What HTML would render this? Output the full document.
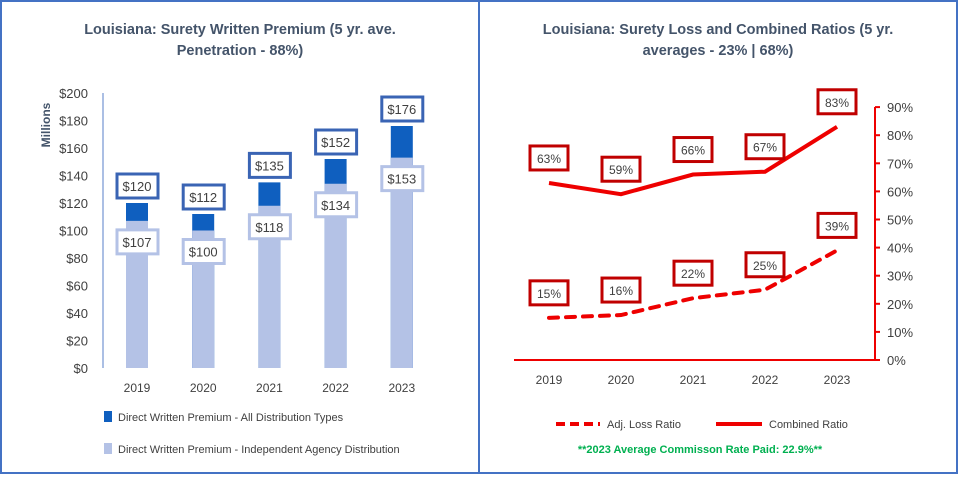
<!DOCTYPE html>
<html><head><meta charset="utf-8"><style>
body{margin:0;width:958px;height:474px;background:#fff;font-family:"Liberation Sans",sans-serif;overflow:hidden}
svg text{font-family:"Liberation Sans",sans-serif}
</style></head><body>
<svg width="958" height="474">
<rect x="1" y="1" width="956" height="472" fill="#fff" stroke="#4472c4" stroke-width="2"/>
<line x1="479" y1="0" x2="479" y2="474" stroke="#4472c4" stroke-width="2"/>
<g id="left">
<text x="240" y="34" text-anchor="middle" font-size="14.5" font-weight="bold" fill="#44546a">Louisiana: Surety Written Premium (5 yr. ave.</text>
<text x="240" y="55" text-anchor="middle" font-size="14.5" font-weight="bold" fill="#44546a">Penetration - 88%)</text>
<text transform="translate(50,125) rotate(-90)" text-anchor="middle" font-size="12" font-weight="bold" fill="#44546a">Millions</text>
<line x1="103" y1="93" x2="103" y2="368" stroke="#8faadc" stroke-width="1.5"/>
</g>
<g id="right">
<text x="718" y="34" text-anchor="middle" font-size="14.5" font-weight="bold" fill="#44546a">Louisiana: Surety Loss and Combined Ratios (5 yr.</text>
<text x="718" y="55" text-anchor="middle" font-size="14.5" font-weight="bold" fill="#44546a">averages - 23% | 68%)</text>
<line x1="514" y1="360" x2="875" y2="360" stroke="#e00" stroke-width="2"/>
<line x1="875" y1="107" x2="875" y2="360" stroke="#e00" stroke-width="2"/>
<line x1="556" y1="424" x2="600" y2="424" stroke="#e00" stroke-width="4" stroke-dasharray="9,5"/>
<text x="607" y="428" font-size="11" fill="#404040">Adj. Loss Ratio</text>
<line x1="716" y1="424" x2="762" y2="424" stroke="#e00" stroke-width="4"/>
<text x="769" y="428" font-size="11" fill="#404040">Combined Ratio</text>
<text x="700" y="453" text-anchor="middle" font-size="11" font-weight="bold" fill="#00b050">**2023 Average Commisson Rate Paid: 22.9%**</text>
</g>
<rect x="104" y="411" width="8" height="11" fill="#0f5fbf"/>
<text x="118" y="421" font-size="11" fill="#404040">Direct Written Premium - All Distribution Types</text>
<rect x="104" y="443" width="8" height="11" fill="#b4c2e6"/>
<text x="118" y="453" font-size="11" fill="#404040">Direct Written Premium - Independent Agency Distribution</text>
</svg>
<script>
const years=["2019","2020","2021","2022","2023"];
const allPremium=[120,112,135,152,176];
const agencyPremium=[107,100,118,134,153];
const premiumTicks=[0,20,40,60,80,100,120,140,160,180,200];
const combinedRatio=[63,59,66,67,83];
const lossRatio=[15,16,22,25,39];
const ratioTicks=[0,10,20,30,40,50,60,70,80,90];
const NS="http://www.w3.org/2000/svg";
function mk(parent,tag,attrs,text){const e=document.createElementNS(NS,tag);for(const k in attrs)e.setAttribute(k,attrs[k]);if(text!==undefined)e.textContent=text;parent.appendChild(e);return e;}
const L=document.getElementById('left'),R=document.getElementById('right');
const yL=v=>368-v*1.375, xL=i=>137+i*66.2;
premiumTicks.forEach(t=>{const e=mk(L,'text',{x:88,y:yL(t)+5,'text-anchor':'end','font-size':13,fill:'#404040'},'$'+t);

});
years.forEach((y,i)=>{
const x=xL(i);
const b1=mk(L,'rect',{x:x-11,y:yL(allPremium[i]),width:22,height:368-yL(allPremium[i]),fill:'#0f5fbf'});


const b2=mk(L,'rect',{x:x-11,y:yL(agencyPremium[i]),width:22,height:368-yL(agencyPremium[i]),fill:'#b4c2e6'});


const ty=yL(allPremium[i])-17;
const r1=mk(L,'rect',{x:x-20,y:ty-12,width:41,height:24,fill:'#fff',stroke:'#3a64b4','stroke-width':3});


const t1=mk(L,'text',{x:x,y:ty+5,'text-anchor':'middle','font-size':13,fill:'#404040'},'$'+allPremium[i]);


const ay=yL(agencyPremium[i])+21;
const r2=mk(L,'rect',{x:x-20,y:ay-12,width:41,height:24,fill:'#fff',stroke:'#b4c2e6','stroke-width':3});


const t2=mk(L,'text',{x:x,y:ay+5,'text-anchor':'middle','font-size':13,fill:'#404040'},'$'+agencyPremium[i]);


const xt=mk(L,'text',{x:x,y:392,'text-anchor':'middle','font-size':12,fill:'#404040'},y);


});
const yR=v=>360-v*2.81, xR=i=>549+i*72;
ratioTicks.forEach(t=>{
const tk=mk(R,'line',{x1:875,y1:yR(t),x2:880,y2:yR(t),stroke:'#e00','stroke-width':2});


const e=mk(R,'text',{x:887,y:yR(t)+5,'font-size':13,fill:'#404040'},t+'%');

});
const pc=combinedRatio.map((v,i)=>xR(i)+','+yR(v)).join(' ');
const lc=mk(R,'polyline',{points:pc,fill:'none',stroke:'#e00','stroke-width':4});


const pl=lossRatio.map((v,i)=>xR(i)+','+yR(v)).join(' ');
const ll=mk(R,'polyline',{points:pl,fill:'none',stroke:'#e00','stroke-width':4,'stroke-dasharray':'9,8','stroke-linecap':'round'});


years.forEach((y,i)=>{
const x=xR(i);
[[combinedRatio[i],'combined'],[lossRatio[i],'loss']].forEach(([v,n])=>{
const cy=yR(v)-25;
const r=mk(R,'rect',{x:x-19,y:cy-12,width:38,height:24,fill:'#fff',stroke:'#c00000','stroke-width':3});


const t=mk(R,'text',{x:x,y:cy+5,'text-anchor':'middle','font-size':12,fill:'#404040'},v+'%');


});
const xt=mk(R,'text',{x:x,y:384,'text-anchor':'middle','font-size':12,fill:'#404040'},y);


});
</script>
</body></html>
